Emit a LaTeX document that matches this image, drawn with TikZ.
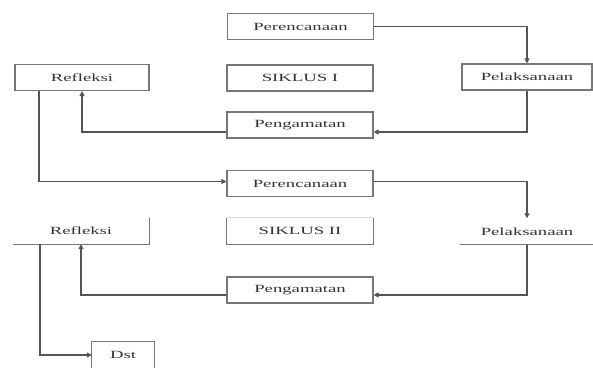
\documentclass[tikz,border=0pt]{standalone}
\usepackage{fontspec}
\newfontfamily\lblfont[FakeStretch=1.7]{Liberation Serif}
\usetikzlibrary{arrows.meta}
\definecolor{linec}{HTML}{555555}
\definecolor{boxc}{HTML}{777777}
\definecolor{txtc}{HTML}{333333}
\tikzset{
  box/.style={draw=boxc, line width=1.1pt, minimum width=#1, minimum height=26pt, inner sep=0pt,
    font=\lblfont\fontsize{11}{12}\selectfont, text=txtc},
  box/.default=146pt,
  nobox/.style={minimum width=#1, minimum height=26pt, inner sep=0pt,
    font=\lblfont\fontsize{11}{12}\selectfont, text=txtc},
  nobox/.default=146pt,
  edge/.style={draw=boxc, line width=1.1pt},
  faint/.style={draw=gray!30, line width=0.8pt},
  arr/.style={draw=linec, line width=1.1pt, -{Triangle[length=5pt,width=5pt]}},
}
\begin{document}
\begin{tikzpicture}[x=1pt,y=-1pt]
\useasboundingbox (0,0) rectangle (593,367);
% cycle I
\node[box] (p1) at (300.5,26.5) {Perencanaan};
\node[box=134pt] (r1) at (82,77.5) {Refleksi};
\node[box] (s1) at (300,78) {SIKLUS I};
\node[box=130pt] (l1) at (527,77) {Pelaksanaan};
\node[box] (g1) at (300,125) {Pengamatan};
% cycle II
\node[box] (p2) at (300,183.5) {Perencanaan};
\node[nobox=136pt] (r2) at (81,231) {Refleksi};
\node[nobox] (s2) at (300,231) {SIKLUS II};
\node[nobox=133pt] (l2) at (527,231.5) {Pelaksanaan};
\node[box] (g2) at (300,290) {Pengamatan};
\node[nobox=62pt] (d) at (123,355) {Dst};
% partial box edges
\draw[edge] (r2.south west) -- (r2.south east) -- (r2.north east);
\draw[faint] (s2.north west) -- (s2.north east);
\draw[edge] (s2.north west) -- (s2.south west) -- (s2.south east) -- (s2.north east);
\draw[edge] (l2.south west) -- (l2.south east);
\draw[edge] (d.south west) -- (d.north west) -- (d.north east) -- (d.south east);
% connectors cycle I
\draw[arr] (p1.east) -| (l1.north);
\draw[arr] (l1.south) |- ([yshift=-7pt]g1.east);
\draw[arr] ([yshift=-7pt]g1.west) -| (r1.south);
\draw[arr] ([xshift=-43pt]r1.south) |- ([yshift=2pt]p2.west);
% connectors cycle II
\draw[arr] ([yshift=2pt]p2.east) -| (l2.north);
\draw[arr] (l2.south) |- ([yshift=-5pt]g2.east);
\draw[arr] ([yshift=-5pt]g2.west) -| (r2.south);
\draw[arr] ([xshift=-41pt]r2.south) |- (d.west);
\end{tikzpicture}
\end{document}
